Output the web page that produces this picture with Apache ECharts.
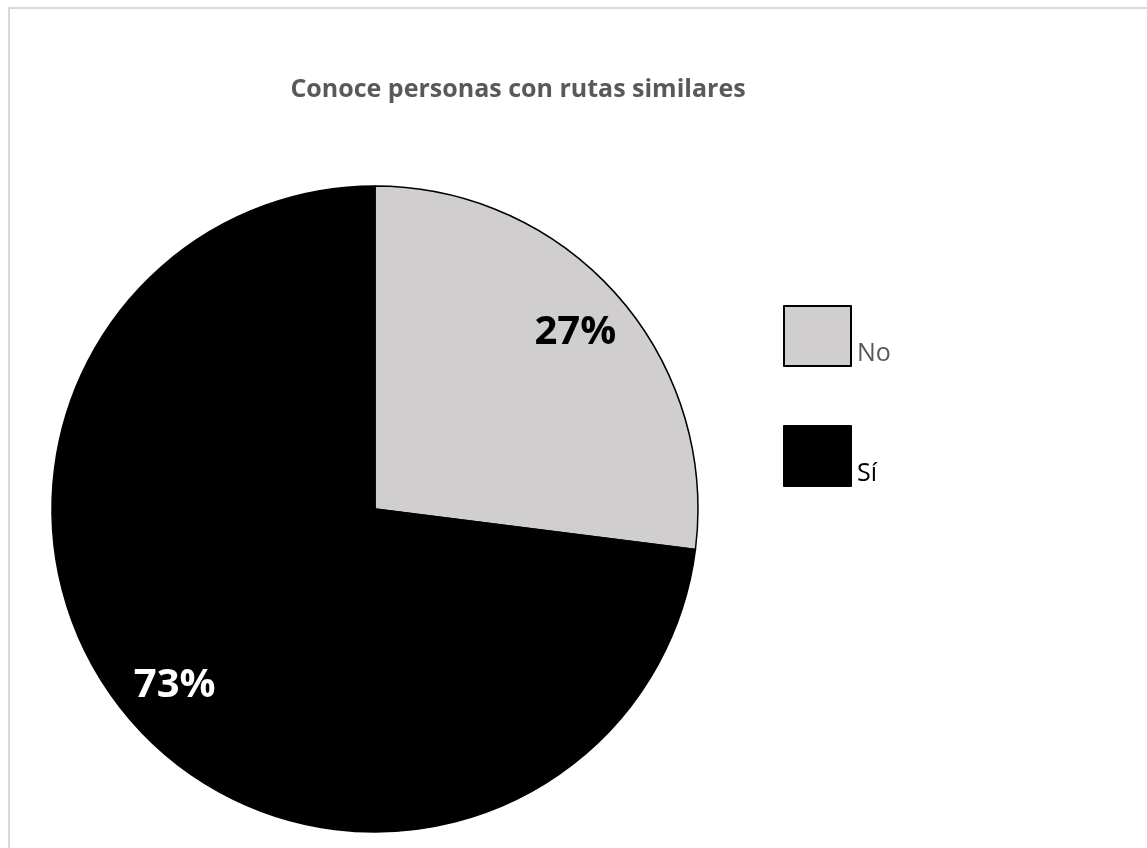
<!DOCTYPE html>
<html>
<head>
<meta charset="utf-8">
<script src="https://cdn.jsdelivr.net/npm/echarts@6/dist/echarts.min.js"></script>
<style>
  html, body { margin: 0; padding: 0; background: #fff; }
  #wrap { position: relative; width: 1147px; height: 848px; overflow: hidden; }
  #frame {
    position: absolute; left: 8px; top: 7px; width: 1200px; height: 900px;
    border-left: 2px solid #d9d9d9; border-top: 2px solid #d9d9d9;
  }
  #chart { position: absolute; left: 0; top: 0; width: 1147px; height: 848px; }
</style>
</head>
<body>
<div id="wrap">
  <div id="frame"></div>
  <div id="chart"></div>
</div>
<script>
const titleText = 'Conoce personas con rutas similares';
const categories = ['No', 'Sí'];
const values = [27, 73];
const sliceColors = ['#d0cece', '#000000'];
const labelColors = ['#000000', '#ffffff'];
const legendTextColors = ['#595959', '#000000'];

const pieData = categories.map((name, i) => ({
  name: name,
  value: values[i],
  itemStyle: { color: sliceColors[i] }
}));

const labelData = categories.map((name, i) => ({
  name: name,
  value: values[i],
  label: { color: labelColors[i] }
}));

// rich styles for legend text, pushed down so it sits at the bottom of the box
const legendRich = {};
categories.forEach((name, i) => {
  legendRich['t' + i] = {
    color: legendTextColors[i],
    fontFamily: 'Open Sans',
    fontSize: 25,
    padding: [36, 0, 0, 1]
  };
});

const myChart = echarts.init(document.getElementById('chart'), null, { renderer: 'canvas' });

const option = {
  animation: false,
  title: {
    text: titleText,
    left: 513,
    textAlign: 'center',
    top: 72,
    textStyle: {
      fontFamily: 'Open Sans',
      fontWeight: 'bold',
      fontSize: 25,
      color: '#595959'
    }
  },
  legend: {
    orient: 'vertical',
    left: 778,
    top: 300,
    icon: 'rect',
    itemWidth: 67,
    itemHeight: 60,
    itemGap: 58,
    selectedMode: false,
    data: categories,
    formatter: name => '{t' + categories.indexOf(name) + '|' + name + '}',
    textStyle: { rich: legendRich }
  },
  series: [
    {
      type: 'pie',
      center: [375, 509],
      radius: [0, 323],
      startAngle: 90,
      clockwise: true,
      silent: true,
      label: { show: false },
      labelLine: { show: false },
      itemStyle: { borderColor: '#000', borderWidth: 1.5 },
      data: pieData
    },
    {
      // transparent ring only used to place labels at ~0.8 of the radius
      type: 'pie',
      center: [375, 509],
      radius: [205, 323],
      startAngle: 90,
      clockwise: true,
      silent: true,
      itemStyle: { color: 'rgba(0,0,0,0)', borderWidth: 0 },
      label: {
        show: true,
        position: 'inside',
        formatter: '{c}%',
        fontFamily: 'Open Sans',
        fontWeight: 'bold',
        fontSize: 40
      },
      labelLine: { show: false },
      data: labelData
    }
  ]
};

myChart.setOption(option);
</script>
</body>
</html>
